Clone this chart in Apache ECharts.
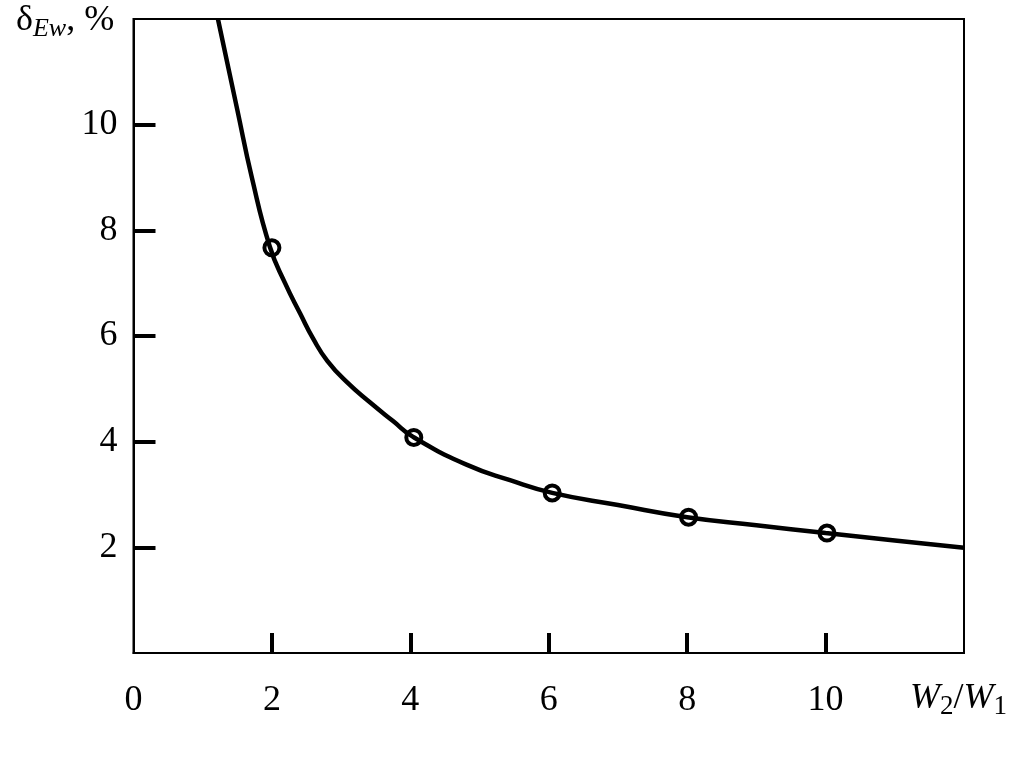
<!DOCTYPE html>
<html>
<head>
<meta charset="utf-8">
<script src="https://cdn.jsdelivr.net/npm/echarts@6/dist/echarts.min.js"></script>
<style>html,body{margin:0;padding:0;background:#fff}#c{width:1025px;height:758px}</style>
</head>
<body>
<div id="c"></div>
<script>
// Curve (x = W2/W1, y = δEw, %)
const curveX = [1.22, 1.5, 1.71, 1.97, 2.19, 2.41, 2.6, 2.8, 3.08, 3.42, 3.75, 4.04, 4.82, 5.44, 6.05, 7.0, 8.0, 9.0, 10.0, 11.0, 12.0];
const curveY = [12.0, 10.28, 9.0, 7.69, 7.0, 6.42, 5.94, 5.53, 5.13, 4.74, 4.39, 4.09, 3.56, 3.27, 3.03, 2.8, 2.57, 2.42, 2.27, 2.13, 1.99];
// Measured points (circles)
const pointX = [2.0, 4.05, 6.05, 8.02, 10.02];
const pointY = [7.67, 4.08, 3.03, 2.57, 2.27];
// Tick labels
const xTicks = [2, 4, 6, 8, 10];
const xLabels = [0, 2, 4, 6, 8, 10];
const yTicks = [2, 4, 6, 8, 10];

const FONT = '"Liberation Serif", "Times New Roman", serif';
const chart = echarts.init(document.getElementById('c'), null, {renderer: 'canvas'});
chart.setOption({
  backgroundColor: '#fff',
  animation: false,
  grid: {left: 133.5, right: 61, top: 19, bottom: 105, show: true, borderColor: '#000', borderWidth: 2, backgroundColor: 'transparent'},
  xAxis: {
    type: 'value', min: 0, max: 12, interval: 2,
    axisLine: {show: true, lineStyle: {color: '#000', width: 2}},
    axisTick: {show: true, inside: true, length: 20, lineStyle: {color: '#000', width: 4}, customValues: xTicks},
    axisLabel: {show: true, margin: 30, color: '#000', fontFamily: FONT, fontSize: 36, customValues: xLabels},
    splitLine: {show: false}
  },
  yAxis: {
    type: 'value', min: 0, max: 12, interval: 2,
    axisLine: {show: true, lineStyle: {color: '#000', width: 2}},
    axisTick: {show: true, inside: true, length: 22, lineStyle: {color: '#000', width: 4}, customValues: yTicks},
    axisLabel: {show: true, margin: 16, color: '#000', fontFamily: FONT, fontSize: 36, customValues: yTicks},
    splitLine: {show: false}
  },
  graphic: [
    {type: 'text', left: 16, top: 3, style: {
      rich: {
        a: {fontFamily: FONT, fontSize: 36, fill: '#000'},
        s: {fontFamily: FONT, fontSize: 26, fontStyle: 'italic', fill: '#000', padding: [16, 0, 0, 0]}
      },
      text: '{a|δ}{s|Ew}{a|, %}'
    }},
    {type: 'text', left: 910, top: 681, style: {
      rich: {
        i: {fontFamily: FONT, fontSize: 36, fontStyle: 'italic', fill: '#000'},
        a: {fontFamily: FONT, fontSize: 36, fill: '#000'},
        s: {fontFamily: FONT, fontSize: 27, fill: '#000', padding: [16, 0, 0, 0]}
      },
      text: '{i|W}{s|2}{a|/}{i|W}{s|1}'
    }}
  ],
  series: [
    {
      type: 'line', data: curveX.map((x, i) => [x, curveY[i]]),
      smooth: 0.5, showSymbol: false, symbol: 'none',
      lineStyle: {color: '#000', width: 4.5}, clip: true, z: 2
    },
    {
      type: 'scatter', data: pointX.map((x, i) => [x, pointY[i]]),
      symbol: 'circle', symbolSize: 15,
      itemStyle: {color: 'rgba(0,0,0,0)', borderColor: '#000', borderWidth: 4, opacity: 1}, z: 3
    }
  ]
});
</script>
</body>
</html>
